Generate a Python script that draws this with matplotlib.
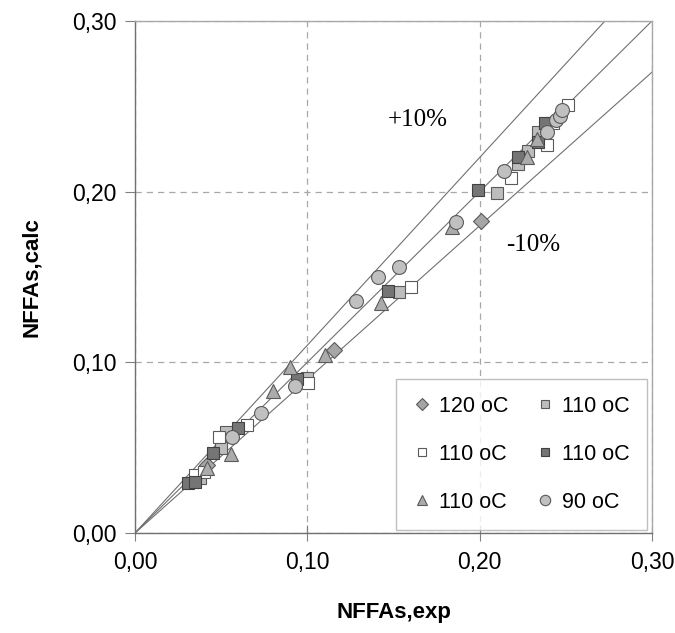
import matplotlib
matplotlib.use('Agg')
import matplotlib.pyplot as plt
import numpy as np
from matplotlib import font_manager

# --- データ ---
dia_x = [0.042, 0.1155, 0.201]
dia_y = [0.040, 0.107, 0.183]

lsq_x = [0.038, 0.050, 0.053, 0.100, 0.153, 0.210, 0.222, 0.228, 0.234]
lsq_y = [0.032, 0.050, 0.059, 0.091, 0.141, 0.199, 0.216, 0.224, 0.235]

wsq_x = [0.035, 0.040, 0.049, 0.065, 0.1005, 0.160, 0.218, 0.239, 0.2426, 0.251]
wsq_y = [0.034, 0.036, 0.056, 0.063, 0.088, 0.144, 0.208, 0.227, 0.240, 0.251]

dsq_x = [0.031, 0.035, 0.045, 0.0598, 0.094, 0.147, 0.199, 0.222, 0.234, 0.238]
dsq_y = [0.029, 0.030, 0.047, 0.0615, 0.090, 0.142, 0.201, 0.220, 0.229, 0.240]

tri_x = [0.042, 0.0557, 0.080, 0.090, 0.110, 0.143, 0.184, 0.2275, 0.233]
tri_y = [0.038, 0.046, 0.083, 0.097, 0.104, 0.135, 0.179, 0.220, 0.231]

cir_x = [0.056, 0.073, 0.093, 0.128, 0.141, 0.153, 0.186, 0.214, 0.239, 0.2443, 0.2467, 0.2478]
cir_y = [0.056, 0.070, 0.086, 0.136, 0.150, 0.156, 0.182, 0.212, 0.235, 0.242, 0.244, 0.248]

labels = ['120 oC', '110 oC', '110 oC', '110 oC', '110 oC', '90 oC']
ticks = [0.0, 0.1, 0.2, 0.3]
tick_labels = ['0,00', '0,10', '0,20', '0,30']


def pick_font(names):
    avail = {f.name for f in font_manager.fontManager.ttflist}
    for n in names:
        if n in avail:
            return n
    return 'DejaVu Sans'


narrow = pick_font(['Liberation Sans Narrow', 'Liberation Sans'])
sans = pick_font(['Liberation Sans', 'DejaVu Sans'])
serif = pick_font(['Liberation Serif', 'DejaVu Serif'])
tick_fs = 19 if narrow == 'Liberation Sans Narrow' else 16.5
leg_fs = 18 if narrow == 'Liberation Sans Narrow' else 15.5

fig = plt.figure(figsize=(6.75, 6.33), dpi=100)
ax = fig.add_axes([0.2, 0.158, 0.766, 0.809])

# 参照線 (y=x, ±10%)
xl = np.array([0.0, 0.3])
ax.plot(xl, xl, color='#707070', lw=0.8, zorder=1)
ax.plot(xl, 1.1 * xl, color='#707070', lw=0.8, zorder=1)
ax.plot(xl, 0.9 * xl, color='#707070', lw=0.8, zorder=1)

edge = '#5a5a5a'
h_dia, = ax.plot(dia_x, dia_y, 'D', ms=8, mfc='#a6a6a6', mec=edge, mew=0.8, ls='none', zorder=3)
h_lsq, = ax.plot(lsq_x, lsq_y, 's', ms=8.5, mfc='#bdbdbd', mec=edge, mew=0.8, ls='none', zorder=3)
h_wsq, = ax.plot(wsq_x, wsq_y, 's', ms=8.5, mfc='white', mec=edge, mew=0.8, ls='none', zorder=3)
h_dsq, = ax.plot(dsq_x, dsq_y, 's', ms=8.5, mfc='#757575', mec='#404040', mew=0.8, ls='none', zorder=3)
h_tri, = ax.plot(tri_x, tri_y, '^', ms=9.5, mfc='#ababab', mec=edge, mew=0.8, ls='none', zorder=3)
h_cir, = ax.plot(cir_x, cir_y, 'o', ms=10, mfc='#c0c0c0', mec=edge, mew=0.8, ls='none', zorder=3)

ax.set_xlim(0, 0.3)
ax.set_ylim(0, 0.3)
ax.set_xticks(ticks)
ax.set_yticks(ticks)
ax.set_xticklabels(tick_labels, fontfamily=narrow, fontsize=tick_fs)
ax.set_yticklabels(tick_labels, fontfamily=narrow, fontsize=tick_fs)
ax.tick_params(axis='x', direction='inout', length=12, width=0.8, color='#808080', pad=7)
ax.tick_params(axis='y', direction='out', length=7, width=0.8, color='#808080', pad=6)

ax.grid(True, ls=(0, (5, 4)), color='#a8a8a8', lw=0.9)
ax.set_axisbelow(True)
for s in ['left', 'bottom']:
    ax.spines[s].set_color('#707070')
    ax.spines[s].set_linewidth(1.0)
for s in ['top', 'right']:
    ax.spines[s].set_color('#a8a8a8')
    ax.spines[s].set_linewidth(1.0)

ax.set_xlabel('NFFAs,exp', fontfamily=sans, fontweight='bold', fontsize=16, labelpad=20)
ax.set_ylabel('NFFAs,calc', fontfamily=sans, fontweight='bold', fontsize=16, labelpad=22)

ax.text(0.164, 0.242, '+10%', fontfamily=serif, fontsize=18, ha='center', va='center')
ax.text(0.231, 0.169, '-10%', fontfamily=serif, fontsize=18, ha='center', va='center')

# 凡例 (行順に並べるため列順に渡す)
handles = [h_dia, h_wsq, h_tri, h_lsq, h_dsq, h_cir]
leg_labels = [labels[0], labels[2], labels[4], labels[1], labels[3], labels[5]]
leg = ax.legend(handles, leg_labels, loc='lower right', ncol=2, markerscale=0.75,
                prop={'family': narrow, 'size': leg_fs}, frameon=True, fancybox=False,
                edgecolor='#b0b0b0', handlelength=0.8, handletextpad=0.4,
                columnspacing=1.3, labelspacing=1.25, borderpad=0.8,
                borderaxespad=0, bbox_to_anchor=(0.99, 0.006))
leg.get_frame().set_linewidth(1.0)

fig.savefig('out.png', dpi=100)
